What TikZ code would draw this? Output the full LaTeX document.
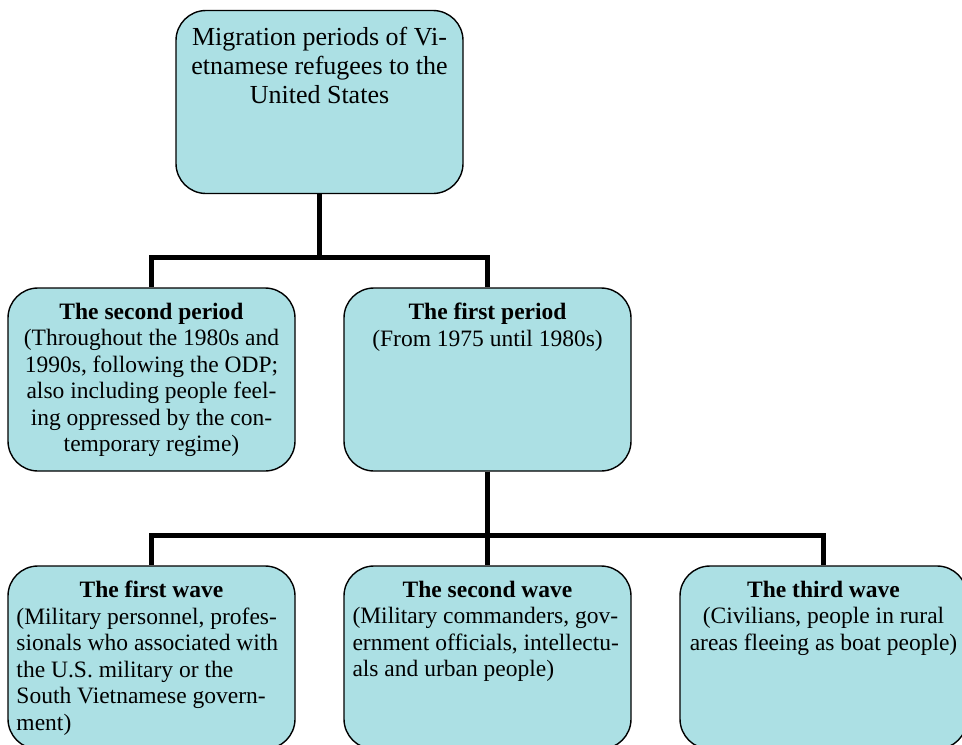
\documentclass[tikz,border=0pt]{standalone}
\usepackage{fontspec}
\setmainfont{Liberation Serif}
\usetikzlibrary{positioning}

\definecolor{boxfill}{RGB}{172,224,228}

\tikzset{
  stagebox/.style={draw, line width=0.7pt, fill=boxfill, rounded corners=15pt,
    inner sep=0pt, minimum width=143.5pt, minimum height=91.5pt},
  link/.style={line width=2.5pt}
}

% text set at the top of a box
\newcommand{\boxtext}[2]{\parbox[c][91.5pt][t]{137pt}{\fontsize{11.75}{13.25}\selectfont\centering\vspace*{7.5pt}#1\par#2}}
\newcommand{\boxtextl}[2]{\parbox[c][91.5pt][t]{137pt}{\fontsize{11.75}{13.25}\selectfont\vspace*{7.5pt}{\centering #1\par}\raggedright\leftskip=1pt #2}}

\begin{document}
\begin{tikzpicture}[x=0.5pt,y=-0.5pt]
\useasboundingbox (0,0) rectangle (962,744);
\clip (0,0) rectangle (962,744);

% root
\node[stagebox] (root) at (319.5,102) {\parbox[c][91.5pt][t]{137pt}{\fontsize{13}{14.5}\selectfont\centering\vspace*{8.5pt}Migration periods of Vi-\\etnamese refugees to the\\United States}};

% periods
\node[stagebox] (period2) at (151.5,379.5) {\boxtext{\textbf{The second period}}{(Throughout the 1980s and\\1990s, following the ODP;\\also including people feel-\\ing oppressed by the con-\\temporary regime)}};
\node[stagebox] (period1) at (487.5,379.5) {\boxtext{\textbf{The first period}}{(From 1975 until 1980s)}};

% waves
\node[stagebox] (wave1) at (151.5,657.5) {\boxtextl{\textbf{The first wave}}{(Military personnel, profes-\\sionals who associated with\\the U.S. military or the\\South Vietnamese govern-\\ment)}};
\node[stagebox] (wave2) at (487.5,657.5) {\boxtextl{\textbf{The second wave}}{(Military commanders, gov-\\ernment officials, intellectu-\\als and urban people)}};
\node[stagebox] (wave3) at (823.5,657.5) {\boxtext{\textbf{The third wave}}{(Civilians, people in rural\\areas fleeing as boat people)}};

% connectors
\draw[link] (root.south) -- ++(0,63) -| (period2.north);
\draw[link] (root.south) -- ++(0,63) -| (period1.north);
\draw[link] (period1.south) -- ++(0,64) -| (wave1.north);
\draw[link] (period1.south) -- ++(0,64) -| (wave2.north);
\draw[link] (period1.south) -- ++(0,64) -| (wave3.north);
\end{tikzpicture}
\end{document}
